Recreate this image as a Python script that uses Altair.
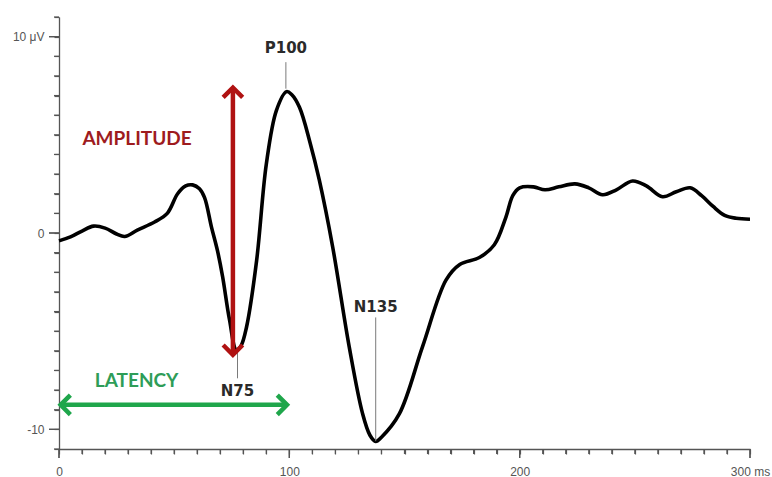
import altair as alt
import pandas as pd

# ---- waveform (ms, μV) ----
time_ms = [0, 5, 10, 15, 20, 25, 28.5, 34, 41.5, 47, 51.5, 55, 58, 61, 63.2, 66.2, 68.8, 71,
           74, 77, 79, 81.4, 85.8, 90, 94.4, 98.8, 101, 104.4, 109, 113, 118.8, 126, 131.8,
           135, 137.5, 140, 147.8, 157.8, 168, 174, 182.5, 189, 194, 197, 200, 206, 211, 217,
           224, 230, 236, 242, 249, 255, 262, 268, 274, 279, 284, 289, 294, 300]
amp_uv = [-0.4, -0.2, 0.1, 0.35, 0.25, -0.05, -0.18, 0.15, 0.56, 1.0, 2.0, 2.4, 2.45, 2.25,
          1.8, 0.3, -0.9, -2.2, -4.4, -5.95, -5.75, -4.8, -1.4, 3.5, 6.25, 7.2, 7.05, 6.4,
          4.6, 2.7, -0.7, -5.8, -9.2, -10.3, -10.62, -10.4, -9.2, -5.8, -2.4, -1.6, -1.25,
          -0.6, 0.8, 1.9, 2.3, 2.35, 2.2, 2.35, 2.5, 2.3, 1.95, 2.2, 2.65, 2.4, 1.85, 2.1,
          2.3, 1.9, 1.35, 0.9, 0.75, 0.7]

# ---- axes ----
x_ticks = list(range(0, 301, 10))
y_ticks = list(range(-11, 12))
x_major = [0, 100, 200, 300]
y_major = [-10, 0, 10]

# ---- peak annotations ----
peak_names = ["P100", "N75", "N135"]
peak_ms = [98.5, 77.5, 137.5]
peak_uv = [7.35, -6.05, -10.6]
line_end_uv = [8.7, -7.4, -4.3]
label_uv = [9.4, -8.05, -3.75]

# ---- arrows ----
amp_arrow_ms = 75.5
amp_arrow_from = -6.2
amp_arrow_to = 7.4
lat_arrow_uv = -8.75
lat_arrow_from = 0.7
lat_arrow_to = 99.0

text_labels = ["AMPLITUDE", "LATENCY"]
text_ms = [33.9, 33.7]
text_uv = [4.78, -7.53]
text_colors = ["#9e1b1e", "#2e9d58"]

RED = "#b01212"
GREEN = "#1fa64b"
AXIS = "#555555"

W, H = 691, 432

xs = alt.Scale(domain=[0, 300], nice=False, zero=False)
ys = alt.Scale(domain=[-11, 11], nice=False, zero=False)
x_axis = alt.Axis(
    values=x_ticks, tickSize=5, labelPadding=12, labelFlush=False, labelOverlap=False,
    labelExpr="datum.value == 300 ? '300 ms' : (datum.value % 100 === 0 ? datum.label : '')")
y_axis = alt.Axis(
    values=y_ticks, tickSize=5, labelPadding=10, labelOverlap=False,
    labelExpr="datum.value == 10 ? '10 μV' : (datum.value == -10 ? '-10' : (datum.value == 0 ? '0' : ''))")


def X(f, axis=None):
    return alt.X(f, scale=xs, axis=axis, title=None)


def Y(f, axis=None):
    return alt.Y(f, scale=ys, axis=axis, title=None)


# the waveform carries the only axes
wave = alt.Chart(pd.DataFrame({"t": time_ms, "v": amp_uv})).mark_line(
    color="black", strokeWidth=3.6, interpolate="catmull-rom"
).encode(x=X("t:Q", x_axis), y=Y("v:Q", y_axis))

# minor ticks as stroke symbols (short below / left of the axis lines)
xminor = alt.Chart(pd.DataFrame({"t": x_ticks})).mark_point(
    shape="M 0 0 L 0 1", filled=False, color=AXIS, strokeWidth=1.2, opacity=1
).encode(
    x=X("t:Q"), y=alt.value(H),
    size=alt.condition("datum.t % 100 === 0", alt.value(324), alt.value(100))
)
yminor = alt.Chart(pd.DataFrame({"v": y_ticks})).mark_point(
    shape="M 0 0 L -1 0", filled=False, color=AXIS, strokeWidth=1.2, opacity=1
).encode(
    y=Y("v:Q"), x=alt.value(0),
    size=alt.condition("datum.v % 10 === 0", alt.value(400), alt.value(100))
)
xmajor = alt.Chart(pd.DataFrame({"t": x_major})).mark_rule(color=AXIS, strokeWidth=1.3).encode(
    x=X("t:Q"), y=alt.value(H), y2=alt.value(H + 9)
)
ymajor = alt.Chart(pd.DataFrame({"v": y_major})).mark_rule(color=AXIS, strokeWidth=1.3).encode(
    y=Y("v:Q"), x=alt.value(-10), x2=alt.value(0)
)

peaks = pd.DataFrame({"name": peak_names, "t": peak_ms, "v": peak_uv,
                      "v2": line_end_uv, "lv": label_uv})
peak_lines = alt.Chart(peaks).mark_rule(color="#7a7a7a", strokeWidth=1).encode(
    x=X("t:Q"), y=Y("v:Q"), y2="v2:Q"
)
peak_text = alt.Chart(peaks).mark_text(
    font="DejaVu Sans", fontWeight="bold", fontSize=15, color="#2a2a2a",
    align="center", baseline="middle"
).encode(x=X("t:Q"), y=Y("lv:Q"), text="name:N")

chevron = "M -1 -1 L 0 0 L -1 1"

# amplitude arrow (vertical)
amp = pd.DataFrame({"t": [amp_arrow_ms], "a": [amp_arrow_from], "b": [amp_arrow_to]})
amp_shaft = alt.Chart(amp).mark_rule(color=RED, strokeWidth=4.5).encode(
    x=X("t:Q"), y=Y("a:Q"), y2="b:Q"
)
amp_heads = alt.Chart(pd.DataFrame({"t": [amp_arrow_ms, amp_arrow_ms],
                                    "v": [amp_arrow_to, amp_arrow_from],
                                    "ang": [270, 90]})).mark_point(
    shape=chevron, size=380, filled=False, color=RED, strokeWidth=4.5, opacity=1
).encode(x=X("t:Q"), y=Y("v:Q"), angle=alt.Angle("ang:Q", scale=None))

# latency arrow (horizontal)
lat = pd.DataFrame({"a": [lat_arrow_from], "b": [lat_arrow_to], "v": [lat_arrow_uv]})
lat_shaft = alt.Chart(lat).mark_rule(color=GREEN, strokeWidth=4.5).encode(
    x=X("a:Q"), x2="b:Q", y=Y("v:Q")
)
lat_heads = alt.Chart(pd.DataFrame({"t": [lat_arrow_from, lat_arrow_to],
                                    "v": [lat_arrow_uv, lat_arrow_uv],
                                    "ang": [180, 0]})).mark_point(
    shape=chevron, size=380, filled=False, color=GREEN, strokeWidth=4.5, opacity=1
).encode(x=X("t:Q"), y=Y("v:Q"), angle=alt.Angle("ang:Q", scale=None))

words = alt.Chart(pd.DataFrame({"w": text_labels, "t": text_ms, "v": text_uv,
                                "c": text_colors})).mark_text(
    font="Lato", fontWeight="bold", fontSize=19, align="center", baseline="middle"
).encode(x=X("t:Q"), y=Y("v:Q"), text="w:N", color=alt.Color("c:N", scale=None))

chart = alt.layer(
    wave, xminor, yminor, xmajor, ymajor, peak_lines, peak_text, amp_shaft, amp_heads,
    lat_shaft, lat_heads, words
).resolve_axis(
    x="independent", y="independent"
).properties(
    width=W, height=H,
    autosize=alt.AutoSizeParams(type="none"),
    padding={"left": 59, "top": 17, "right": 22, "bottom": 28},
    background="white",
).configure_view(stroke=None).configure_axis(
    grid=False, domainColor=AXIS, tickColor=AXIS, labelColor=AXIS, domainWidth=1.3,
    tickWidth=1.2, labelFont="Liberation Sans", labelFontSize=12
)

chart.save("out.html", embed_options={"renderer": "svg", "actions": False})
